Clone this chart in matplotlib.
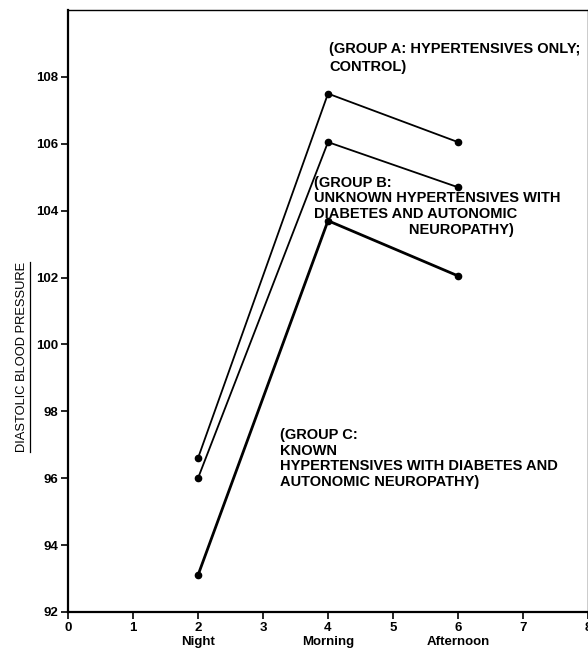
import matplotlib
matplotlib.use("Agg")
import matplotlib.pyplot as plt
from matplotlib.lines import Line2D

plt.rcParams['font.family'] = ['Liberation Sans', 'DejaVu Sans']

# time points (hours index on the x axis)
x_points = [2, 4, 6]
group_a = [96.6, 107.5, 106.05]
group_b = [96.0, 106.05, 104.7]
group_c = [93.1, 103.7, 102.05]

x_ticks = [0, 1, 2, 3, 4, 5, 6, 7, 8]
x_labels = ['0', '1', '2\nNight', '3', '4\nMorning', '5', '6\nAfternoon', '7', '8']
y_ticks = [92, 94, 96, 98, 100, 102, 104, 106, 108]

fig = plt.figure(figsize=(5.88, 6.59), dpi=100)
ax = fig.add_axes([68 / 588, 47 / 659, 520 / 588, 602 / 659])

ax.plot(x_points, group_a, 'k-', marker='o', markersize=4.5, linewidth=1.3)
ax.plot(x_points, group_b, 'k-', marker='o', markersize=4.5, linewidth=1.3)
ax.plot(x_points, group_c, 'k-', marker='o', markersize=4.5, linewidth=2.0)

ax.set_xlim(0, 8)
ax.set_ylim(92, 110)
ax.set_xticks(x_ticks)
ax.set_xticklabels(x_labels, fontsize=9.5, fontweight='bold', linespacing=1.3)
ax.set_yticks(y_ticks)
ax.set_yticklabels([str(v) for v in y_ticks], fontsize=9.5, fontweight='bold')
ax.tick_params(direction='out', length=5, width=1.2, pad=2)
for side in ['left', 'bottom']:
    ax.spines[side].set_linewidth(1.6)
for side in ['top', 'right']:
    ax.spines[side].set_linewidth(1.0)

txt = dict(fontsize=10.5, fontweight='bold', va='top', ha='left')
ax.text(4.02, 109.05, '(GROUP A: HYPERTENSIVES ONLY;\nCONTROL)', linespacing=1.4, **txt)
ax.text(3.78, 105.05,
        '(GROUP B:\nUNKNOWN HYPERTENSIVES WITH\nDIABETES AND AUTONOMIC\n'
        '                       NEUROPATHY)', linespacing=1.15, **txt)
ax.text(3.26, 97.5,
        '(GROUP C:\nKNOWN\nHYPERTENSIVES WITH DIABETES AND\nAUTONOMIC NEUROPATHY)',
        linespacing=1.15, **txt)

ylab = fig.text(22 / 588, 1 - 357 / 659, 'DIASTOLIC BLOOD PRESSURE',
                rotation=90, fontsize=9.3, ha='center', va='center')

# underline the rotated y label
fig.canvas.draw()
bb = ylab.get_window_extent().transformed(fig.transFigure.inverted())
ux = bb.x1 + 1.5 / 588
fig.add_artist(Line2D([ux, ux], [bb.y0, bb.y1], color='black', linewidth=0.9,
                      transform=fig.transFigure))

fig.savefig('out.png', dpi=100)
